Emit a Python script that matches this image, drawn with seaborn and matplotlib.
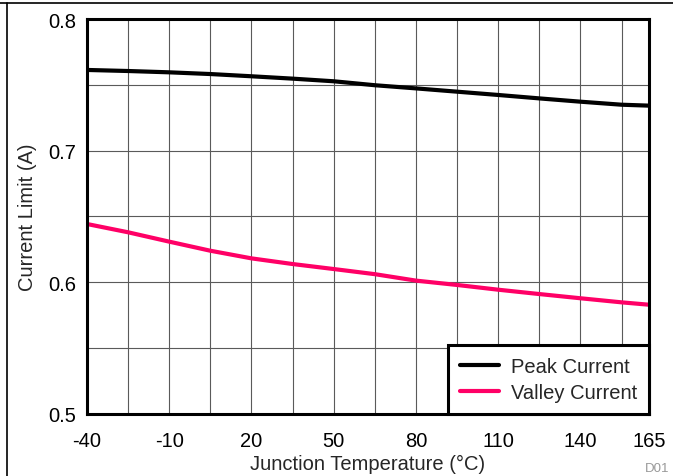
import matplotlib
matplotlib.use("Agg")
import matplotlib.pyplot as plt
from matplotlib.ticker import FixedLocator
from matplotlib.lines import Line2D
import seaborn as sns
import pandas as pd

# Data
temps = [-40, -25, -10, 5, 20, 35, 50, 65, 80, 95, 110, 125, 140, 155, 165]
peak = [0.7613, 0.7605, 0.7595, 0.7582, 0.7565, 0.7547, 0.7527, 0.7497,
        0.7473, 0.7448, 0.7423, 0.7397, 0.7372, 0.7349, 0.7342]
valley = [0.6443, 0.6380, 0.6309, 0.6240, 0.6182, 0.6139, 0.6101, 0.6062,
          0.6013, 0.5980, 0.5944, 0.5911, 0.5879, 0.5848, 0.5830]
series_names = ["Peak Current", "Valley Current"]
x_ticks = [-40, -10, 20, 50, 80, 110, 140, 165]
x_ticklabels = ["-40", "-10", "20", "50", "80", "110", "140", "165"]
x_grid = [-40, -25, -10, 5, 20, 35, 50, 65, 80, 95, 110, 125, 140, 155]
y_ticks = [0.5, 0.6, 0.7, 0.8]
y_ticklabels = ["0.5", "0.6", "0.7", "0.8"]
y_grid = [0.55, 0.65, 0.75]

df = pd.DataFrame({
    "T": temps * 2,
    "I": peak + valley,
    "series": [series_names[0]] * len(temps) + [series_names[1]] * len(temps),
})

sns.set_style("white")
plt.rcParams["font.family"] = ["Liberation Sans", "DejaVu Sans"]

fig = plt.figure(figsize=(6.73, 4.77), dpi=100)
ax = fig.add_axes([87 / 673, 1 - 415 / 477, (649 - 87) / 673, (415 - 20) / 477])

sns.lineplot(data=df, x="T", y="I", hue="series",
             palette={series_names[0]: "#000000", series_names[1]: "#FF0066"},
             linewidth=3, ax=ax, legend=False)

ax.set_xlim(-40, 165)
ax.set_ylim(0.5, 0.8)
ax.xaxis.set_major_locator(FixedLocator(x_ticks))
ax.set_xticklabels(x_ticklabels)
ax.xaxis.set_minor_locator(FixedLocator(x_grid))
ax.yaxis.set_major_locator(FixedLocator(y_ticks))
ax.set_yticklabels(y_ticklabels)
ax.yaxis.set_minor_locator(FixedLocator(y_grid))
ax.grid(True, which="both", color="#5a5a5a", linewidth=0.8)
ax.tick_params(which="both", length=0, labelsize=14.5, colors="black")
ax.tick_params(axis="x", pad=12)
ax.tick_params(axis="y", pad=8)
for s in ax.spines.values():
    s.set_linewidth(2.2)
    s.set_color("black")
    s.set_visible(True)
ax.set_axisbelow(True)

ax.set_xlabel("Junction Temperature (°C)", fontsize=14.5, labelpad=3)
ax.set_ylabel("Current Limit (A)", fontsize=14.5, labelpad=8)

handles = [Line2D([], [], color="#000000", lw=3),
           Line2D([], [], color="#FF0066", lw=3)]
leg = ax.legend(handles, series_names, loc="lower right", fontsize=14.5,
                frameon=True, fancybox=False, framealpha=1, edgecolor="black",
                borderaxespad=0, handlelength=1.9, handletextpad=0.6,
                labelspacing=0.35, borderpad=0.6)
leg.get_frame().set_linewidth(2.2)

# figure frame (top and left)
fig.add_artist(Line2D([0, 1], [1 - 4 / 477, 1 - 4 / 477], color="black", lw=1.2,
                      transform=fig.transFigure))
fig.add_artist(Line2D([6.5 / 673, 6.5 / 673], [0, 1 - 4 / 477], color="black", lw=1.2,
                      transform=fig.transFigure))
fig.text(645 / 673, 1 - 463 / 477, "D01", color="#999999", fontsize=9.5,
         ha="left", va="top")

fig.savefig("out.png", dpi=100)
